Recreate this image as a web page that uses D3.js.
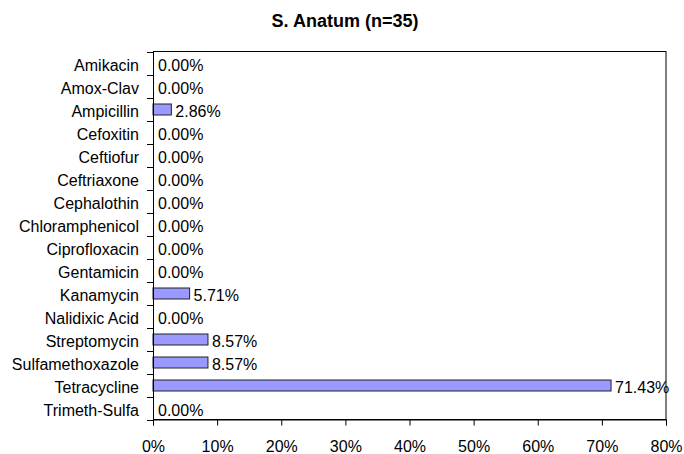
<!DOCTYPE html>
<html><head><meta charset="utf-8">
<script src="https://cdn.jsdelivr.net/npm/d3@7"></script>
<style>body{margin:0;background:#fff;} svg{display:block;} text{font-family:"Liberation Sans",Arial,sans-serif;}</style>
</head><body>
<svg id="c" width="684" height="454"></svg>
<script>
const title = "S. Anatum (n=35)";
const categories = ["Amikacin","Amox-Clav","Ampicillin","Cefoxitin","Ceftiofur","Ceftriaxone","Cephalothin","Chloramphenicol","Ciprofloxacin","Gentamicin","Kanamycin","Nalidixic Acid","Streptomycin","Sulfamethoxazole","Tetracycline","Trimeth-Sulfa"];
const values = [0,0,2.86,0,0,0,0,0,0,0,5.71,0,8.57,8.57,71.43,0];
const xTicks = [0,10,20,30,40,50,60,70,80];

const svg = d3.select("#c");
const m = {left:153, right:666, top:51.5, bottom:419.5};
const x = d3.scaleLinear().domain([0,80]).range([m.left, m.right]);
const y = d3.scaleBand().domain(categories).range([m.top, m.bottom]).paddingInner(0).paddingOuter(0);
const barH = 11;
const FS = "16px";

svg.append("text").attr("x",345).attr("y",27).attr("text-anchor","middle")
  .attr("font-size","18px").attr("font-weight","bold").text(title);

// frame
svg.append("rect").attr("x",m.left+0.5).attr("y",m.top).attr("width",m.right-m.left-0.5).attr("height",m.bottom-m.top)
  .attr("fill","none").attr("stroke","#000").attr("stroke-width",1);

// bars
const data = categories.map((c,i)=>({c, v: values[i]}));
svg.selectAll("rect.bar").data(data.filter(d=>d.v>0)).enter().append("rect").attr("class","bar")
  .attr("x", x(0)).attr("y", d=> y(d.c) + y.bandwidth()/2 - barH/2 + 0.5)
  .attr("width", d=> x(d.v)-x(0)).attr("height", barH)
  .attr("fill","#9999ff").attr("stroke","#222").attr("stroke-width",1);

// value labels
svg.selectAll("text.val").data(data).enter().append("text").attr("class","val")
  .attr("x", d=> x(d.v) + (d.v>0?4:5)).attr("y", d=> y(d.c)+y.bandwidth()/2+7.5)
  .attr("font-size",FS).text(d=> d.v.toFixed(2)+"%");

// y axis
const yAxis = d3.axisLeft(y).tickSize(0).tickPadding(14);
const ga = svg.append("g").attr("transform",`translate(${m.left},0)`).call(yAxis);
ga.select(".domain").remove();
ga.selectAll(".tick text").attr("font-size",FS).attr("font-family","Liberation Sans, Arial, sans-serif").attr("fill","#000").attr("dy",null).attr("y",7.5);
// y tick marks at band boundaries
const bounds = categories.map(c=>y(c)).concat([m.bottom]);
svg.selectAll("line.yt").data(bounds).enter().append("line")
  .attr("x1",m.left-6).attr("x2",m.left).attr("y1",d=>Math.round(d)+0.5).attr("y2",d=>Math.round(d)+0.5)
  .attr("stroke","#000");
svg.append("line").attr("x1",m.left+0.5).attr("x2",m.left+0.5).attr("y1",m.top).attr("y2",m.bottom).attr("stroke","#000");

// x axis
const xAxis = d3.axisBottom(x).tickValues(xTicks).tickSize(6).tickPadding(15).tickFormat(d=>d+"%");
const gx = svg.append("g").attr("transform",`translate(0,${m.bottom})`).call(xAxis);
gx.select(".domain").attr("stroke","#000");
gx.selectAll("text").attr("font-size",FS).attr("font-family","Liberation Sans, Arial, sans-serif").attr("fill","#000");
</script>
</body></html>
